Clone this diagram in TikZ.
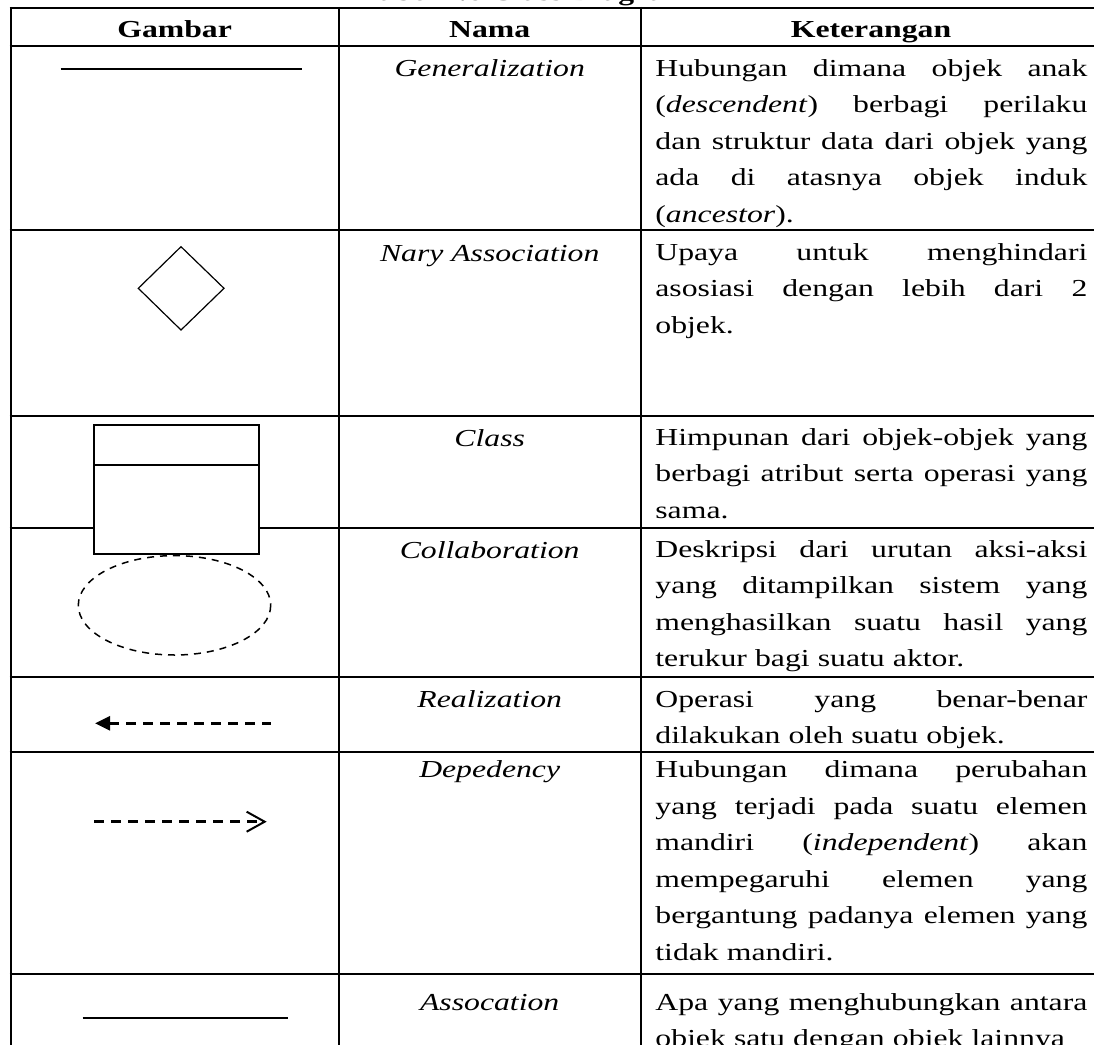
\documentclass[tikz,border=0pt]{standalone}
\usepackage{fontspec}
\setmainfont[FakeStretch=1.3]{Liberation Serif}
\usetikzlibrary{arrows.meta}

\tikzset{
    grid line/.style={line width=1pt},
    head text/.style={anchor=base, inner sep=0pt, font=\fontsize{12.2}{18.25}\selectfont\bfseries},
    name text/.style={anchor=base, inner sep=0pt, font=\fontsize{12.2}{18.25}\selectfont\itshape},
    cell text/.style={anchor=north west, yshift=12.775pt, inner sep=0pt, text width=216pt, align=left,
        font=\fontsize{12.2}{18.25}\selectfont, execute at begin node={\parindent=0pt\noindent\strut}},
    symbol line/.style={line width=0.85pt},
    dash arrow/.style={line width=1.4pt, dash pattern=on 5pt off 3.5pt},
}
\newcommand{\fullline}[1]{\makebox[216pt][s]{\spaceskip=\fontdimen2\font plus 1fil\relax #1}}

\begin{document}
\begin{tikzpicture}[x=0.5pt, y=-0.5pt]   %% px of the reference
        \useasboundingbox (0,0) rectangle (1094,1045);
        \node[head text, anchor=base west] (judul) at (360,0.5) {Tabel 2.6 Class Diagram};

        % garis tabel
        \foreach \yy in {7.8,45.5,230,416.2,527.7,676.7,751.7,974}
            \draw[grid line] (9.7,\yy) -- (1110,\yy);
        \foreach \xx in {10.7,338.5,641}
            \draw[grid line] (\xx,6.8) -- (\xx,1060);

        % kepala tabel
        \node[head text] (hGambar) at (174.6,37.3) {Gambar};
        \node[head text] (hNama) at (489.7,37.3) {Nama};
        \node[head text] (hKet) at (871,37.3) {Keterangan};

        % gambar
        \coordinate (genL) at (60.7,69.3);
        \coordinate (genR) at (301.7,69.3);
        \draw[symbol line] (genL) -- (genR);
        \draw[line width=0.6pt] (181,246.7) -- (224,288.3) -- (181,330) -- (138.3,288.3) -- cycle;
        \draw[line width=0.9pt, fill=white] (94,424.7) rectangle (259,554);
        \draw[line width=0.9pt] (94,464.7) -- (259,464.7);
        \draw[line width=0.75pt, dash pattern=on 3.5pt off 3pt] (174.5,605.3) ellipse [x radius=96.2, y radius=49.7];
        \coordinate (realTip) at (95,723.3);
        \coordinate (realEnd) at (270.7,723.3);
        \draw[dash arrow, {Triangle[length=7.5pt,width=7pt]}-] (realTip) -- (realEnd);
        \coordinate (depStart) at (94.3,821.7);
        \coordinate (depTip) at (266.7,821.7);
        \draw[dash arrow, -{Straight Barb[length=9pt,width=10pt,line width=1pt]}] (depStart) -- (depTip);
        \coordinate (assL) at (82.7,1017.7);
        \coordinate (assR) at (288.3,1017.7);
        \draw[symbol line] (assL) -- (assR);

        % nama
        \node[name text] (nGeneral) at (489.7,76) {Generalization};
        \node[name text] (nNary) at (489.7,261) {Nary Association};
        \node[name text] (nClass) at (489.7,446) {Class};
        \node[name text] (nCollab) at (489.7,558) {Collaboration};
        \node[name text] (nReal) at (489.7,707) {Realization};
        \node[name text] (nDep) at (489.7,777.3) {Depedency};
        \node[name text] (nAss) at (489.7,1010) {Assocation};

        % keterangan
        \node[cell text] (kGeneral) at (655,76) {\fullline{Hubungan dimana objek anak}\\
            \fullline{(\textit{descendent}) berbagi perilaku}\\
            \fullline{dan struktur data dari objek yang}\\
            \fullline{ada di atasnya objek induk}\\
            (\textit{ancestor}).};
        \node[cell text] (kNary) at (655,260) {\fullline{Upaya untuk menghindari}\\
            \fullline{asosiasi dengan lebih dari 2}\\
            objek.};
        \node[cell text] (kClass) at (655,445) {\fullline{Himpunan dari objek-objek yang}\\
            \fullline{berbagi atribut serta operasi yang}\\
            sama.};
        \node[cell text] (kCollab) at (655,556.7) {\fullline{Deskripsi dari urutan aksi-aksi}\\
            \fullline{yang ditampilkan sistem yang}\\
            \fullline{menghasilkan suatu hasil yang}\\
            terukur bagi suatu aktor.};
        \node[cell text] (kReal) at (655,706.7) {\fullline{Operasi yang benar-benar}\\
            dilakukan oleh suatu objek.};
        \node[cell text] (kDep) at (655,777.3) {\fullline{Hubungan dimana perubahan}\\
            \fullline{yang terjadi pada suatu elemen}\\
            \fullline{mandiri (\textit{independent}) akan}\\
            \fullline{mempegaruhi elemen yang}\\
            \fullline{bergantung padanya elemen yang}\\
            tidak mandiri.};
        \node[cell text] (kAss) at (655,1010) {\fullline{Apa yang menghubungkan antara}\\
            objek satu dengan objek lainnya};
    \end{tikzpicture}
\end{document}
